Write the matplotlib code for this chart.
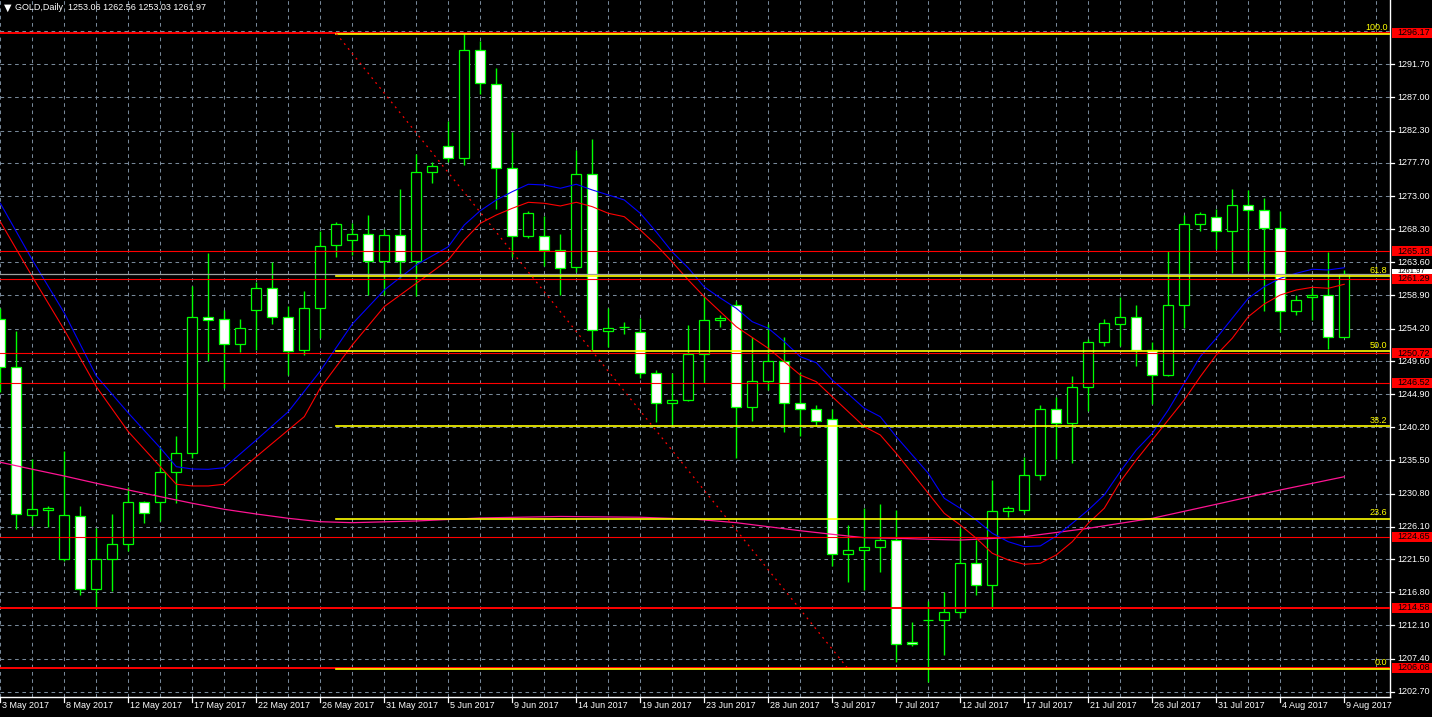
import matplotlib
matplotlib.use("Agg")
import matplotlib.pyplot as plt
from matplotlib.patches import Rectangle
from matplotlib.transforms import blended_transform_factory

# GOLD daily candles, 3 May 2017 .. 9 Aug 2017 (MT4 includes Sunday bars)
opens = [1255.52, 1248.71, 1227.72, 1228.50, 1221.56, 1227.58, 1217.22, 1221.52, 1223.60, 1229.56,
         1229.56, 1233.82, 1236.51, 1255.80, 1255.52, 1251.98, 1256.80, 1259.92, 1255.80, 1251.13,
         1257.08, 1266.02, 1266.73, 1267.58, 1263.75, 1267.44, 1263.75, 1276.38, 1280.07, 1278.36,
         1293.69, 1288.86, 1276.95, 1267.30, 1267.30, 1265.31, 1262.90, 1276.09, 1253.82, 1254.39,
         1253.68, 1247.86, 1243.61, 1244.03, 1250.56, 1255.38, 1257.51, 1243.04, 1246.73, 1249.57,
         1243.61, 1242.76, 1241.34, 1222.19, 1222.76, 1223.18, 1224.17, 1209.70, 1212.80, 1212.82,
         1213.96, 1220.91, 1217.80, 1228.29, 1228.43, 1233.39, 1242.76, 1240.77, 1245.88, 1252.26,
         1254.82, 1255.80, 1251.13, 1247.58, 1257.51, 1269.00, 1270.00, 1268.01, 1271.69, 1270.99,
         1268.43, 1256.66, 1258.65, 1258.93, 1253.06]
highs = [1257.10, 1253.86, 1235.71, 1229.00, 1236.88, 1229.04, 1225.87, 1227.90, 1231.78, 1229.75,
         1237.37, 1238.97, 1260.25, 1264.89, 1256.84, 1255.52, 1260.77, 1263.61, 1257.41, 1259.54,
         1268.09, 1269.33, 1269.14, 1270.28, 1268.29, 1273.96, 1278.93, 1277.80, 1283.61, 1296.17,
         1294.96, 1291.13, 1282.05, 1270.85, 1270.14, 1267.58, 1279.50, 1281.06, 1257.08, 1255.10,
         1255.67, 1248.33, 1247.86, 1254.67, 1258.79, 1256.09, 1258.08, 1252.97, 1254.82, 1252.97,
         1248.00, 1243.33, 1242.76, 1226.30, 1228.71, 1229.28, 1228.43, 1212.54, 1215.60, 1216.84,
         1225.87, 1224.17, 1232.69, 1229.04, 1235.95, 1243.33, 1244.46, 1247.44, 1252.69, 1255.52,
         1258.65, 1257.51, 1252.26, 1265.18, 1270.28, 1270.70, 1271.13, 1273.96, 1273.82, 1272.69,
         1270.85, 1258.93, 1259.92, 1265.07, 1262.56]
lows = [1245.25, 1225.73, 1226.20, 1226.10, 1221.28, 1216.37, 1214.38, 1217.02, 1222.70, 1226.67,
        1226.95, 1229.50, 1235.80, 1249.65, 1245.82, 1250.88, 1251.13, 1254.82, 1247.66, 1250.50,
        1252.83, 1264.40, 1264.69, 1258.93, 1258.93, 1261.34, 1258.79, 1274.90, 1277.80, 1277.46,
        1287.53, 1271.13, 1264.40, 1267.00, 1263.13, 1258.93, 1262.19, 1251.13, 1251.64, 1253.40,
        1247.15, 1241.00, 1240.57, 1243.90, 1246.45, 1254.39, 1235.80, 1241.14, 1245.45, 1239.58,
        1239.01, 1240.43, 1220.48, 1218.30, 1217.08, 1219.72, 1206.87, 1209.14, 1204.00, 1207.90,
        1213.11, 1216.37, 1214.53, 1227.44, 1228.00, 1232.69, 1235.66, 1235.10, 1242.47, 1251.69,
        1251.69, 1248.86, 1243.47, 1247.50, 1254.25, 1268.01, 1265.54, 1262.13, 1262.33, 1256.66,
        1253.77, 1256.09, 1255.38, 1251.35, 1253.03]
closes = [1248.72, 1227.86, 1228.57, 1228.70, 1227.72, 1217.22, 1221.48, 1223.60, 1229.56, 1228.00,
          1233.82, 1236.51, 1255.80, 1255.38, 1251.98, 1254.25, 1259.92, 1255.80, 1250.98, 1257.08,
          1265.88, 1269.00, 1267.58, 1263.75, 1267.44, 1263.75, 1276.38, 1277.23, 1278.36, 1293.69,
          1289.00, 1276.95, 1267.30, 1270.56, 1265.31, 1262.76, 1276.09, 1253.96, 1254.25, 1254.40,
          1247.86, 1243.61, 1244.03, 1250.56, 1255.38, 1255.67, 1243.04, 1246.73, 1249.57, 1243.61,
          1242.76, 1241.06, 1222.19, 1222.76, 1223.18, 1224.17, 1209.42, 1209.42, 1212.85, 1214.00,
          1220.91, 1217.80, 1228.29, 1228.71, 1233.39, 1242.76, 1240.77, 1245.88, 1252.26, 1254.96,
          1255.80, 1251.13, 1247.58, 1257.51, 1269.00, 1270.42, 1268.01, 1271.69, 1270.99, 1268.43,
          1256.66, 1258.22, 1258.93, 1252.97, 1261.97]

date_ticks = [0, 4, 8, 12, 16, 20, 24, 28, 32, 36, 40, 44, 48, 52, 56, 60, 64, 68, 72, 76, 80, 84]
date_labels = ["3 May 2017", "8 May 2017", "12 May 2017", "17 May 2017", "22 May 2017", "26 May 2017",
               "31 May 2017", "5 Jun 2017", "9 Jun 2017", "14 Jun 2017", "19 Jun 2017", "23 Jun 2017",
               "28 Jun 2017", "3 Jul 2017", "7 Jul 2017", "12 Jul 2017", "17 Jul 2017", "21 Jul 2017",
               "26 Jul 2017", "31 Jul 2017", "4 Aug 2017", "9 Aug 2017"]

# moving averages (bar index, price)
blue_idx = [0, 2, 4, 6, 8, 10, 11, 12, 13, 14, 16, 18, 20, 22, 24, 26, 28, 29, 30, 31, 32, 33, 34, 35,
            36, 37, 38, 39, 40, 41, 42, 43, 44, 45, 46, 47, 48, 49, 50, 51, 52, 53, 54, 55, 56, 57, 58,
            59, 60, 61, 62, 63, 64, 65, 66, 67, 68, 69, 70, 71, 72, 73, 74, 75, 76, 77, 78, 79, 80, 81,
            82, 83, 84]
blue_ma = [1271.98, 1263.94, 1256.42, 1247.48, 1242.23, 1237.27, 1234.61, 1234.29, 1234.24, 1234.47,
           1238.40, 1242.42, 1248.19, 1254.86, 1259.68, 1263.23, 1265.82, 1268.90, 1270.93, 1272.45,
           1273.63, 1274.68, 1274.58, 1274.11, 1274.68, 1273.87, 1273.16, 1272.45, 1270.56, 1267.91,
           1265.07, 1262.80, 1260.11, 1258.55, 1257.08, 1255.18, 1254.25, 1252.35, 1250.22, 1249.37,
           1246.91, 1244.93, 1242.90, 1241.71, 1238.87, 1236.27, 1233.68, 1230.13, 1228.71, 1227.05,
           1225.17, 1223.97, 1223.27, 1223.37, 1224.78, 1226.58, 1228.47, 1230.60, 1233.91, 1236.98,
           1239.35, 1242.66, 1246.45, 1250.22, 1252.83, 1255.67, 1258.50, 1260.15, 1261.34, 1262.05,
           1262.62, 1262.52, 1262.84]
red_idx = [0, 2, 4, 6, 8, 10, 11, 12, 13, 14, 16, 18, 19, 20, 22, 24, 26, 28, 29, 30, 31, 32, 33, 34,
           35, 36, 37, 38, 39, 40, 41, 42, 43, 44, 46, 48, 50, 51, 52, 54, 55, 56, 58, 59, 60, 61, 62,
           63, 64, 65, 66, 67, 68, 69, 70, 71, 72, 73, 74, 75, 76, 77, 78, 79, 80, 81, 82, 83, 84]
red_ma = [1269.37, 1261.57, 1254.01, 1245.96, 1239.58, 1234.61, 1232.12, 1231.88, 1231.88, 1232.12,
          1236.03, 1239.82, 1241.71, 1245.78, 1251.88, 1257.33, 1260.63, 1263.94, 1266.77, 1269.14,
          1270.32, 1271.27, 1272.12, 1271.98, 1271.60, 1272.12, 1271.50, 1270.56, 1270.08, 1268.19,
          1266.06, 1263.65, 1261.10, 1258.73, 1254.47, 1251.41, 1247.62, 1246.67, 1244.54, 1240.29,
          1239.11, 1236.51, 1230.84, 1228.00, 1226.34, 1224.46, 1222.33, 1221.38, 1220.77, 1220.91,
          1222.09, 1223.97, 1226.58, 1228.71, 1232.49, 1235.56, 1238.40, 1241.24, 1244.08, 1247.38,
          1250.46, 1252.83, 1255.89, 1257.69, 1258.97, 1259.68, 1260.06, 1259.92, 1260.49]
pink_idx = [0, 2, 4, 6, 8, 10, 12, 14, 16, 18, 20, 22, 26, 30, 35, 40, 43.5, 46, 48, 50, 52, 54, 56,
            58, 60, 62, 64, 68, 72, 76, 80, 84]
pink_ma = [1235.24, 1234.25, 1233.29, 1232.26, 1231.31, 1230.36, 1229.42, 1228.57, 1227.90, 1227.29,
           1226.81, 1226.67, 1226.91, 1227.34, 1227.55, 1227.44, 1227.15, 1226.67, 1226.10, 1225.53,
           1225.02, 1224.54, 1224.46, 1224.31, 1224.21, 1224.43, 1224.69, 1225.87, 1227.29, 1229.28,
           1231.31, 1233.19]

# horizontal levels
red_levels = [1296.17, 1265.18, 1261.29, 1250.72, 1246.52, 1224.65, 1214.58, 1206.08]
red_widths = [1.4, 0.8, 0.8, 0.8, 0.8, 0.8, 1.4, 1.4]
bid_price = 1261.97
fib_low, fib_high = 1205.90, 1296.05
fib_pcts = [0.0, 23.6, 38.2, 50.0, 61.8, 100.0]
fib_start, fib_end = 21, 53

grid_prices = [1296.40, 1291.70, 1287.00, 1282.30, 1277.70, 1273.00, 1268.30, 1263.60, 1258.90, 1254.20,
               1249.60, 1244.90, 1240.20, 1235.50, 1230.80, 1226.10, 1221.50, 1216.80, 1212.10,
               1207.40, 1202.70]
grid_labels = ["", "1291.70", "1287.00", "1282.30", "1277.70", "1273.00", "1268.30", "1263.60", "1258.90",
               "1254.20", "1249.60", "1244.90", "1240.20", "1235.50", "1230.80", "1226.10", "1221.50",
               "1216.80", "1212.10", "1207.40", "1202.70"]

W, H = 1432, 717
LIME = "#00ff00"
GRID = "#778899"
FONT = ["Liberation Sans", "DejaVu Sans"]
FS = 6.5

fig = plt.figure(figsize=(W / 100, H / 100), dpi=100, facecolor="black")
ax = fig.add_axes([0, 20 / H, 1390 / W, 697 / H], facecolor="black")
ax.set_xlim(-0.02, 86.86)
ax.set_ylim(1201.94, 1300.82)
ax.set_xticks([])
ax.set_yticks([])
for s in ["left", "top"]:
    ax.spines[s].set_visible(False)
for s in ["right", "bottom"]:
    ax.spines[s].set_color("white")
    ax.spines[s].set_linewidth(1.0)

# grid
for gp in grid_prices:
    ax.axhline(gp, color=GRID, lw=0.75, ls=(0, (3.5, 3.5)), zorder=1)
for gx in range(0, 88, 2):
    ax.axvline(gx, color=GRID, lw=0.75, ls=(0, (3.5, 3.5)), zorder=1)

# candles
idx = list(range(len(opens)))
ax.vlines(idx, lows, highs, color=LIME, lw=1.0, zorder=3)
for i in idx:
    o, c = opens[i], closes[i]
    face = "white" if c < o else "black"
    hgt = max(abs(c - o), 0.05)
    ax.bar(i, hgt, bottom=min(o, c), width=0.64, facecolor=face, edgecolor=LIME, lw=0.9, zorder=4)

# moving averages
ax.plot(pink_idx, pink_ma, color="#ff1493", lw=0.9, zorder=5)
ax.plot(blue_idx, blue_ma, color="#0000ff", lw=0.8, zorder=5)
ax.plot(red_idx, red_ma, color="#ff0000", lw=0.8, zorder=5)

# horizontal lines
for lv, lw in zip(red_levels, red_widths):
    ax.axhline(lv, color="#ff0000", lw=lw, zorder=6)
ax.axhline(bid_price, color="#a0a0a0", lw=0.9, zorder=6)

# fibonacci
for pct in fib_pcts:
    lvl = fib_low + (fib_high - fib_low) * pct / 100
    ax.plot([fib_start, 86.86], [lvl, lvl], color="#ffff00", lw=1.2, zorder=7)
    ax.text(86.7, lvl + 0.25, f"{pct:.1f}", color="#ffff00", fontsize=FS, family=FONT,
            ha="right", va="bottom", zorder=8)
ax.plot([fib_start, fib_end], [fib_high, fib_low], color="#ff0000", lw=0.9,
        ls=(0, (1.5, 3.5)), zorder=7)

# right price scale
tr = blended_transform_factory(fig.transFigure, ax.transData)
for gp, lab in zip(grid_prices, grid_labels):
    if not lab:
        continue
    ax.plot([1390 / W, 1394 / W], [gp, gp], color="white", lw=0.9, transform=tr, clip_on=False)
    ax.text(1397 / W, gp, lab, color="white", fontsize=FS, family=FONT, ha="left", va="center",
            transform=tr, clip_on=False)

box_h = 1.45
ax.add_patch(Rectangle((1392 / W, bid_price - box_h / 2), 40 / W, box_h, transform=tr,
                       facecolor="white", edgecolor="none", clip_on=False, zorder=9))
ax.text(1397 / W, bid_price + 0.35, f"{bid_price:.2f}", color="black", fontsize=5.5, family=FONT,
        ha="left", va="center", transform=tr, clip_on=False, zorder=10)
for lv in red_levels:
    ax.add_patch(Rectangle((1392 / W, lv - box_h / 2), 40 / W, box_h, transform=tr,
                           facecolor="#ff0000", edgecolor="none", clip_on=False, zorder=11))
    ax.text(1397 / W, lv, f"{lv:.2f}", color="black", fontsize=FS, family=FONT,
            ha="left", va="center", transform=tr, clip_on=False, zorder=12)

# bottom date scale
for t, lab in zip(date_ticks, date_labels):
    xf = (t * 16 + 0.3) / W
    fig.add_artist(plt.Line2D([xf, xf], [(H - 697) / H, (H - 702) / H], color="white", lw=0.9))
    fig.text(xf + 2 / W, (H - 705) / H, lab, color="white", fontsize=FS, family=FONT,
             ha="left", va="center")

# title
fig.text(4 / W, 1 - 8 / H, "▼", color="white", fontsize=7, family=["DejaVu Sans"], ha="left", va="center")
fig.text(15 / W, 1 - 8 / H, "GOLD,Daily  1253.06 1262.56 1253.03 1261.97", color="white",
         fontsize=FS, family=FONT, ha="left", va="center")

fig.savefig("out.png", dpi=100, facecolor="black")
